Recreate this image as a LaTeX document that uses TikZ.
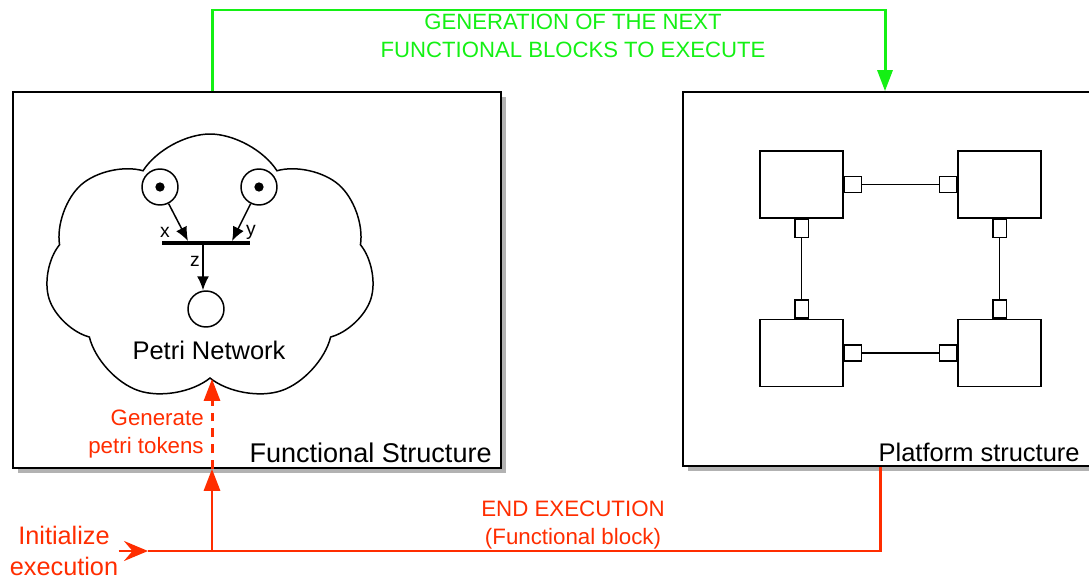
\documentclass[tikz,border=0pt]{standalone}
\usepackage{fontspec}
\setmainfont{Liberation Sans}
\usetikzlibrary{positioning,arrows.meta,shapes.symbols,shadows,petri}

\definecolor{flowgreen}{RGB}{20,240,20}
\definecolor{flowred}{RGB}{255,45,0}

\begin{document}
\begin{tikzpicture}[
    x=0.02cm, y=0.02cm,
    panel/.style={draw, line width=1pt, fill=white, inner sep=0pt,
                  drop shadow={shadow xshift=0.1cm, shadow yshift=-0.1cm,
                               fill=black, opacity=0.3}},
    blk/.style={draw, line width=0.85pt, minimum width=1.66cm, minimum height=1.34cm, inner sep=0pt},
    hport/.style={draw, line width=0.85pt, minimum width=0.34cm, minimum height=0.32cm, inner sep=0pt},
    vport/.style={draw, line width=0.85pt, minimum width=0.27cm, minimum height=0.36cm, inner sep=0pt},
    link/.style={line width=0.85pt},
    pplace/.style={place, draw, line width=0.85pt, minimum size=0.72cm, inner sep=0pt},
    ptrans/.style={fill=black, minimum width=1.76cm, minimum height=0.09cm, inner sep=0pt},
    parc/.style={->, >={Latex[length=0.28cm, width=0.24cm]}, line width=0.85pt},
    greenarrow/.style={->, >={Triangle[length=0.42cm, width=0.3cm]}, draw=flowgreen, line width=1.7pt},
    redline/.style={draw=flowred, line width=1.7pt},
    redarrow/.style={redline, ->, >={Triangle[length=0.44cm, width=0.32cm]}},
    bigtxt/.style={font=\fontsize{15.4}{18}\selectfont, inner sep=0pt},
    midtxt/.style={font=\fontsize{14.5}{17}\selectfont, inner sep=0pt},
    redtxt/.style={text=flowred, font=\fontsize{12.7}{15.4}\selectfont, align=center, inner sep=0pt},
    greentxt/.style={text=flowgreen, font=\fontsize{12.6}{15.9}\selectfont, align=center, inner sep=0pt}
]
\useasboundingbox (0,0) rectangle (1089,579);

% the two structures
\node[panel, minimum width=9.76cm, minimum height=7.52cm] (fs) at (257,299) {};
\node[panel, minimum width=8.24cm, minimum height=7.48cm] (ps) at (889,300) {};

\node[bigtxt, anchor=base east] (fslbl) at (492,117) {Functional Structure};
\node[midtxt, anchor=base east] (pslbl) at (1080,118) {Platform structure};

% petri network
\node[cloud, draw, line width=0.85pt, cloud puffs=7, cloud puff arc=115, aspect=1.2,
      minimum width=6.6cm, minimum height=5.4cm] (cloud) at (210,310) {};
\node[pplace, tokens=1] (p1) at (160,392) {};
\node[pplace, tokens=1] (p2) at (259,392) {};
\node[pplace] (p3) at (206,270) {};
\node[ptrans] (t1) at (206,336) {};
\coordinate (tin1) at (188,338);
\coordinate (tin2) at (232,338);
\coordinate (tout) at (203,334);

\draw[parc] (p1) -- (tin1);
\draw[parc] (p2) -- (tin2);
\draw[parc] (tout) -- (tout |- p3.north);

\node[bigtxt, font=\fontsize{11}{13}\selectfont] (lx) at (165,347) {x};
\node[bigtxt, font=\fontsize{11}{13}\selectfont] (ly) at (251,347) {y};
\node[bigtxt, font=\fontsize{11}{13}\selectfont] (lz) at (195,318) {z};
\node[midtxt] (pn) at (209,229) {Petri Network};

% platform blocks
\node[blk] (b1) at (801.5,394.5) {};
\node[blk] (b2) at (999.5,394.5) {};
\node[blk] (b3) at (801.5,226) {};
\node[blk] (b4) at (999.5,226) {};

\node[hport, right=0pt of b1] (b1r) {};
\node[hport, left=0pt of b2]  (b2l) {};
\node[hport, right=0pt of b3] (b3r) {};
\node[hport, left=0pt of b4]  (b4l) {};
\node[vport, below=0pt of b1] (b1d) {};
\node[vport, above=0pt of b3] (b3u) {};
\node[vport, below=0pt of b2] (b2d) {};
\node[vport, above=0pt of b4] (b4u) {};

\draw[link] (b1r) -- (b2l);
\draw[link] (b3r) -- (b4l);
\draw[link] (b1d) -- (b3u);
\draw[link] (b2d) -- (b4u);

% next blocks
\coordinate (gtop) at (885,569);
\draw[greenarrow] ([xshift=-0.9cm]fs.north) |- (gtop) -- (gtop |- ps.north);
\node[greentxt] (gen) at (573,543) {GENERATION OF THE NEXT\\FUNCTIONAL BLOCKS TO EXECUTE};

% execution loop
\node[redtxt, font=\fontsize{14.4}{17.6}\selectfont] (init) at (64,28) {Initialize\\execution};
\coordinate (entry) at (148,28);
\coordinate (junc) at (212,28);
\draw[redline, -{Stealth[length=0.48cm, width=0.4cm, inset=0.17cm]}] (init.east |- entry) -- (entry);
\draw[redline] ([xshift=-0.18cm]ps.south) |- (entry);
\draw[redarrow] (junc) -- (junc |- fs.south);
\draw[redarrow, dash pattern=on 5pt off 4pt] ([xshift=-0.9cm]fs.south) -- ([xshift=-0.9cm]fs.south |- cloud.south);

\node[redtxt, align=right] (gentok) at (146,145) {Generate\\petri tokens};
\node[redtxt] (endex) at (573,54) {END EXECUTION\\(Functional block)};

\end{tikzpicture}
\end{document}
